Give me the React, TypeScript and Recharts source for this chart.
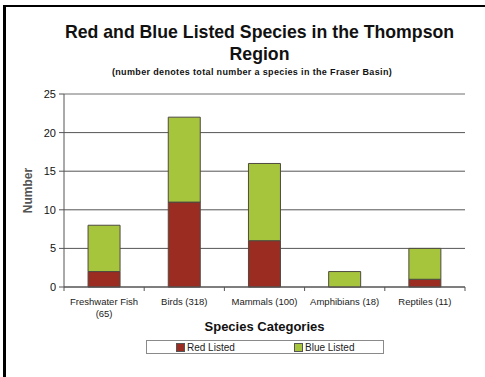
import { BarChart, Bar, XAxis, YAxis, CartesianGrid, Legend, ReferenceLine, Label } from 'recharts';

// Listed species counts by category (Thompson region)
const categories = [
  'Freshwater Fish (65)',
  'Birds (318)',
  'Mammals (100)',
  'Amphibians (18)',
  'Reptiles (11)',
];
const redListed = [2, 11, 6, 0, 1];
const blueListed = [6, 11, 10, 2, 4];
const yTicks = [0, 5, 10, 15, 20, 25];

const RED = '#9b2c22';
const GREEN = '#a6c53c';
const FONT = '"Liberation Sans", Arial, sans-serif';

const data = categories.map((name, i) => ({
  name,
  red: redListed[i],
  blue: blueListed[i],
}));

// long category names break before the bracketed total
const splitLabel = (label: string) => {
  if (label.length <= 16) return [label];
  const cut = label.lastIndexOf(' (');
  return [label.slice(0, cut), label.slice(cut + 1)];
};

// category label plus the small tick marks sitting on the band edges
const CategoryTick = (props: any) => {
  const { x, y, payload, index, visibleTicksCount } = props;
  const half = payload.offset ?? 0;
  const lines = splitLabel(String(payload.value));
  return (
    <g>
      <line x1={x - half} x2={x - half} y1={y} y2={y + 4} stroke="#555" />
      {index === visibleTicksCount - 1 && (
        <line x1={x + half} x2={x + half} y1={y} y2={y + 4} stroke="#555" />
      )}
      <text x={x} y={y + 18} textAnchor="middle" fontSize={9.5} fontFamily={FONT} fill="#222">
        {lines.map((line, i) => (
          <tspan key={i} x={x} dy={i === 0 ? 0 : 12}>
            {line}
          </tspan>
        ))}
      </text>
    </g>
  );
};

const LegendBox = () => (
  <div
    style={{
      position: 'relative',
      width: 238,
      height: 14,
      boxSizing: 'border-box',
      border: '1px solid #8a8a8a',
      background: '#fff',
      fontFamily: FONT,
      fontSize: 10,
      color: '#222',
    }}
  >
    {[
      { label: 'Red Listed', color: RED, left: 29 },
      { label: 'Blue Listed', color: GREEN, left: 147 },
    ].map((item) => (
      <div key={item.label} style={{ position: 'absolute', left: item.left, top: 1, display: 'flex', alignItems: 'center', lineHeight: '11px' }}>
        <span style={{ display: 'inline-block', width: 7, height: 7, background: item.color, border: '1px solid #555', marginRight: 2 }} />
        {item.label}
      </div>
    ))}
  </div>
);

const YTitle = (props: any) => {
  const { viewBox } = props;
  const cy = viewBox.y + viewBox.height / 2;
  return (
    <text
      x={28}
      y={cy}
      transform={`rotate(-90, 28, ${cy})`}
      textAnchor="middle"
      dominantBaseline="central"
      fontFamily={FONT}
      fontSize={12}
      fontWeight="bold"
      fill="#555"
    >
      Number
    </text>
  );
};

export default function App() {
  return (
    <div style={{ position: 'absolute', left: 0, top: 0, width: 485, height: 377, background: '#fff', overflow: 'hidden' }}>
      {/* frame edges */}
      <div style={{ position: 'absolute', left: 3, top: 5, width: 500, height: 400, borderLeft: '3px solid #000', borderTop: '2px solid #000' }} />

      <div style={{ position: 'absolute', left: 0, top: 21, width: 519, textAlign: 'center', fontFamily: FONT, fontWeight: 'bold', fontSize: 17.7, lineHeight: '22px', color: '#111' }}>
        Red and Blue Listed Species in the Thompson
        <br />
        Region
      </div>
      <div style={{ position: 'absolute', left: 0, top: 66, width: 504, textAlign: 'center', fontFamily: FONT, fontWeight: 'bold', fontSize: 9, letterSpacing: 0.35, lineHeight: '12px', color: '#111' }}>
        (number denotes total number a species in the Fraser Basin)
      </div>

      <BarChart
        width={485}
        height={377}
        data={data}
        margin={{ top: 94, right: 20, bottom: 44, left: 0 }}
        barCategoryGap="30%"
        style={{ position: 'absolute', left: 0, top: 0 }}
      >
        <CartesianGrid vertical={false} stroke="#555" />
        <ReferenceLine y={25} stroke="#c4c4c4" />
        <XAxis
          dataKey="name"
          height={46}
          interval={0}
          tickSize={0}
          tickMargin={0}
          tickLine={false}
          axisLine={{ stroke: '#555' }}
          tick={<CategoryTick />}
        >
          <Label
            value="Species Categories"
            position="insideBottom"
            offset={2}
            fontFamily={FONT}
            fontSize={13}
            fontWeight="bold"
            fill="#111"
          />
        </XAxis>
        <YAxis
          width={64}
          domain={[0, 25]}
          ticks={yTicks}
          tickSize={5}
          tickMargin={3}
          axisLine={{ stroke: '#555' }}
          tickLine={{ stroke: '#555' }}
          tick={{ fontSize: 11, fontFamily: FONT, fill: '#111' }}
        >
          <Label content={<YTitle />} />
        </YAxis>
        <YAxis
          yAxisId="right"
          orientation="right"
          width={0}
          domain={[0, 25]}
          tick={false}
          tickLine={false}
          axisLine={{ stroke: '#c4c4c4' }}
        />
        <Legend
          layout="horizontal"
          verticalAlign="middle"
          align="center"
          content={<LegendBox />}
          wrapperStyle={{ left: 146, top: 340, width: 238, height: 14 }}
        />
        <Bar dataKey="red" name="Red Listed" stackId="a" fill={RED} stroke="#4f4a40" isAnimationActive={false} />
        <Bar dataKey="blue" name="Blue Listed" stackId="a" fill={GREEN} stroke="#4f4a40" isAnimationActive={false} />
      </BarChart>
    </div>
  );
}
